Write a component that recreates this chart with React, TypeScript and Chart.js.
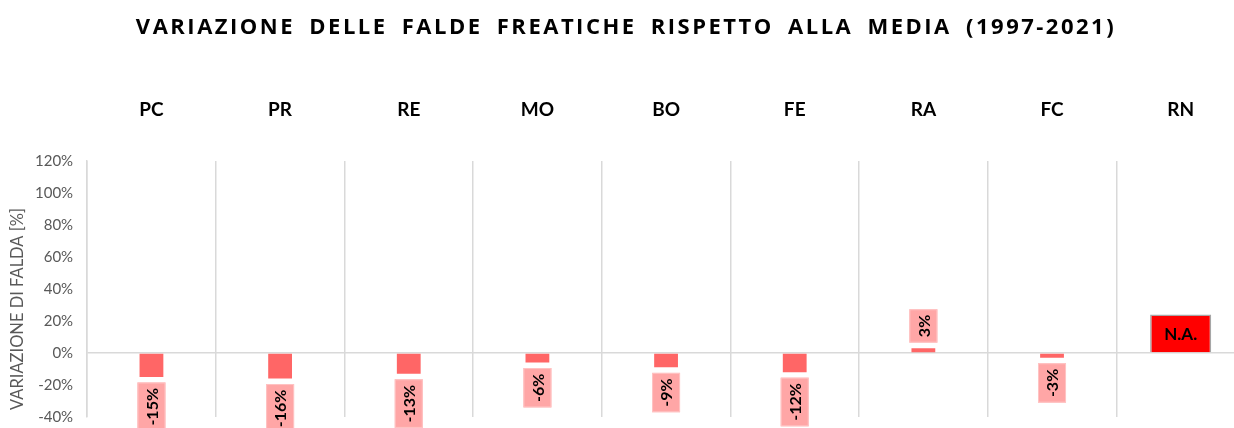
import React, { useEffect, useRef } from "react";
import { Chart, registerables } from "chart.js";

Chart.register(...registerables);

const categories = ["PC", "PR", "RE", "MO", "BO", "FE", "RA", "FC", "RN"];
const variation: (number | null)[] = [-15, -16, -13, -6, -9, -12, 3, -3, null];
const naValues: (number | null)[] = [null, null, null, null, null, null, null, null, 24];
const naLabel = "N.A.";
const yMin = -40;
const yMax = 120;
const yStep = 20;
const titleText = "VARIAZIONE DELLE FALDE FREATICHE RISPETTO ALLA MEDIA (1997-2021)";
const yTitle = "VARIAZIONE DI FALDA [%]";

const FONT = '"Open Sans", "Noto Sans", sans-serif';
const LFONT = 'Lato, "Open Sans", sans-serif';

const titlePlugin = {
  id: "customTitle",
  afterDraw(chart: any) {
    const ctx = chart.ctx;
    ctx.save();
    ctx.font = `bold 22px ${FONT}`;
    (ctx as any).letterSpacing = "2.5px";
    (ctx as any).wordSpacing = "6px";
    ctx.fillStyle = "#000";
    ctx.textAlign = "center";
    ctx.textBaseline = "middle";
    ctx.fillText(titleText, chart.width / 2 + 1, 28);
    ctx.restore();

    // y-axis title
    const area = chart.chartArea;
    ctx.save();
    ctx.font = `16.5px ${LFONT}`;
    ctx.fillStyle = "#595959";
    ctx.translate(18, area.bottom - 7);
    ctx.rotate(-Math.PI / 2);
    ctx.textAlign = "left";
    ctx.textBaseline = "middle";
    ctx.fillText(yTitle, 0, 0);
    ctx.restore();
  },
};

const labelPlugin = {
  id: "boxLabels",
  afterDatasetsDraw(chart: any) {
    const ctx = chart.ctx;
    const meta = chart.getDatasetMeta(0);
    ctx.save();
    ctx.font = `bold 16px ${LFONT}`;
    meta.data.forEach((bar: any, i: number) => {
      const v = variation[i];
      if (v == null) return;
      const text = `${Math.round(v)}%`;
      const w = ctx.measureText(text).width;
      const L = w + 11;
      const T = 28;
      const gap = 5.5;
      let top: number;
      if (v < 0) top = bar.y + gap;
      else top = bar.y - gap - L;
      const left = bar.x - T / 2;
      ctx.fillStyle = "#FFA6A6";
      ctx.fillRect(left, top, T, L);
      ctx.strokeStyle = "#FFC4C4";
      ctx.lineWidth = 1;
      ctx.strokeRect(left + 0.5, top + 0.5, T - 1, L - 1);
      ctx.save();
      ctx.translate(bar.x, top + L / 2);
      ctx.rotate(-Math.PI / 2);
      ctx.fillStyle = "#000";
      ctx.textAlign = "center";
      ctx.textBaseline = "middle";
      ctx.fillText(text, 0, 1);
      ctx.restore();
    });
    const meta2 = chart.getDatasetMeta(1);
    ctx.font = `bold 17px ${LFONT}`;
    meta2.data.forEach((bar: any, i: number) => {
      if (naValues[i] == null) return;
      ctx.fillStyle = "#000";
      ctx.textAlign = "center";
      ctx.textBaseline = "middle";
      ctx.fillText(naLabel, bar.x, (bar.y + bar.base) / 2 + 1);
    });
    ctx.restore();
  },
};

export default function App() {
  const ref = useRef<HTMLCanvasElement | null>(null);
  useEffect(() => {
    if (!ref.current) return;
    const chart = new Chart(ref.current, {
      type: "bar",
      data: {
        labels: categories,
        datasets: [
          {
            data: variation as any,
            backgroundColor: "#FF6666",
            barPercentage: 0.185,
            categoryPercentage: 1,
            grouped: false,
          } as any,
          {
            data: naValues as any,
            backgroundColor: "#FF0000",
            borderColor: "#A6A6A6",
            borderWidth: 1.5,
            barPercentage: 0.475,
            categoryPercentage: 1,
            grouped: false,
          } as any,
        ],
      },
      options: {
        responsive: false,
        animation: false,
        layout: { padding: { top: 58, bottom: 13, left: 21, right: 5 } },
        plugins: {
          legend: { display: false },
          tooltip: { enabled: false },
          title: { display: false },
        },
        scales: {
          x: {
            position: "top",
            border: { display: false },
            grid: { offset: true, drawTicks: false, color: "#D9D9D9", lineWidth: 1.5 },
            ticks: { color: "#000", font: { family: LFONT, size: 19, weight: "bold" }, padding: 40 },
          },
          y: {
            min: yMin,
            max: yMax,
            border: { display: true, color: "#D9D9D9", width: 1.5 },
            grid: {
              drawTicks: false,
              lineWidth: 1.5,
              color: (c: any) => (c.tick && c.tick.value === 0 ? "#D9D9D9" : "rgba(0,0,0,0)"),
            },
            ticks: {
              stepSize: yStep,
              padding: 14,
              color: "#595959",
              font: { family: LFONT, size: 15 },
              callback: (v: any) => `${v}%`,
            },
          },
        },
      } as any,
      plugins: [titlePlugin, labelPlugin],
    });
    return () => chart.destroy();
  }, []);
  return (
    <div style={{ position: "fixed", left: 0, top: 0, width: 1234, height: 428, overflow: "hidden", background: "#fff" }}>
      <canvas ref={ref} width={1250} height={440} style={{ width: 1250, height: 440, display: "block" }} />
    </div>
  );
}
